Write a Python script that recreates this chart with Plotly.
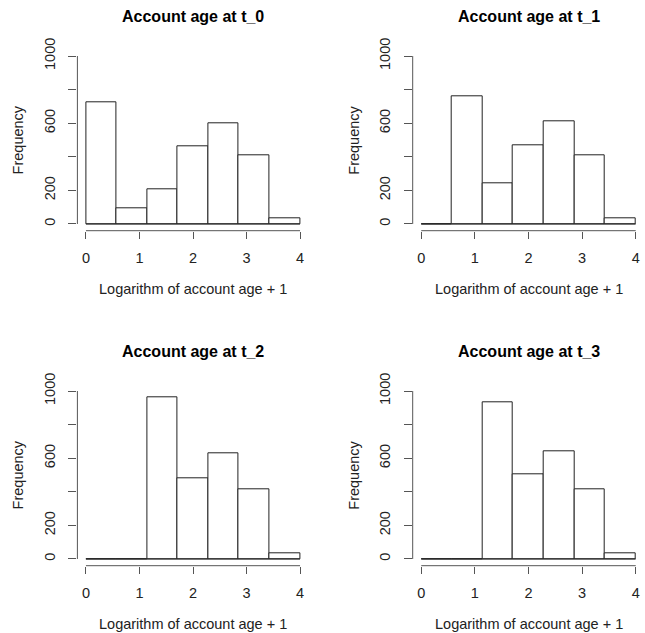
import plotly.graph_objects as go

# Data
bin_edges = [0, 4/7, 8/7, 12/7, 16/7, 20/7, 24/7, 4]
titles = ["Account age at t_0", "Account age at t_1", "Account age at t_2", "Account age at t_3"]
counts_t0 = [722, 93, 206, 464, 597, 409, 34]
counts_t1 = [0, 758, 244, 466, 613, 411, 32]
counts_t2 = [0, 0, 964, 480, 629, 413, 36]
counts_t3 = [0, 0, 931, 502, 641, 417, 36]
x_ticks = [0, 1, 2, 3, 4]
y_ticks = [0, 200, 400, 600, 800, 1000]
y_ticktext = ["0", "200", "", "600", "", "1000"]
xlab = "Logarithm of account age + 1"
ylab = "Frequency"

all_counts = [counts_t0, counts_t1, counts_t2, counts_t3]

W, H = 645, 633
# panel plot regions in pixels (left, right, top, bottom)
panels = [
    (77.4, 308.6, 49.3, 230.7),
    (412.7, 644.3, 49.3, 230.7),
    (77.4, 308.6, 384.3, 565.7),
    (412.7, 644.3, 384.3, 565.7),
]

FONT = "Liberation Sans, Arial, sans-serif"
AX_COL = "#555555"
BAR_COL = "#222222"
TXT_COL = "#222222"
LAB_SIZE = 14.5
TITLE_SIZE = 16

fig = go.Figure()
layout = dict(
    template="none",
    width=W, height=H, margin=dict(l=0, r=0, t=0, b=0, pad=0), autosize=False,
    paper_bgcolor="white", plot_bgcolor="white", showlegend=False,
    font=dict(family=FONT, color="black", size=12),
)
annotations = []
shapes = []

centers = [(bin_edges[i] + bin_edges[i + 1]) / 2 for i in range(len(bin_edges) - 1)]
widths = [bin_edges[i + 1] - bin_edges[i] for i in range(len(bin_edges) - 1)]

for k, (cnts, (l, r, t, b)) in enumerate(zip(all_counts, panels)):
    n = k + 1
    xa = "x" if n == 1 else f"x{n}"
    ya = "y" if n == 1 else f"y{n}"
    fig.add_trace(go.Bar(
        x=centers, y=cnts, width=widths, base=0,
        marker=dict(color="white", line=dict(color=BAR_COL, width=1)),
        xaxis=xa, yaxis=ya, hoverinfo="skip",
    ))
    # baseline at zero (zero-count bins drawn as flat lines)
    fig.add_trace(go.Scatter(
        x=[bin_edges[0], bin_edges[-1]], y=[0, 0], mode="lines",
        line=dict(color=BAR_COL, width=1), xaxis=xa, yaxis=ya, hoverinfo="skip",
    ))
    xd = [l / W, r / W]
    yd = [1 - b / H, 1 - t / H]
    layout[f"xaxis{'' if n == 1 else n}"] = dict(
        domain=xd, anchor=ya, range=[-0.16, 4.16], showgrid=False, zeroline=False,
        showline=False, tickvals=x_ticks, ticks="outside", ticklen=7, tickwidth=1,
        tickcolor=AX_COL, tickfont=dict(size=LAB_SIZE, family=FONT, color=TXT_COL),
        ticklabelstandoff=7, fixedrange=True, automargin=False,
    )
    layout[f"yaxis{'' if n == 1 else n}"] = dict(
        domain=yd, anchor=xa, range=[-40, 1040], showgrid=False, zeroline=False,
        showline=False, tickvals=y_ticks, ticktext=y_ticktext, ticks="outside",
        ticklen=8, tickwidth=1, tickcolor=AX_COL, tickangle=-90,
        tickfont=dict(size=LAB_SIZE, family=FONT, color=TXT_COL), ticklabelstandoff=8,
        fixedrange=True, automargin=False,
    )
    # axis lines spanning first to last tick
    shapes.append(dict(type="line", xref=xa, yref=f"{ya} domain", x0=x_ticks[0], x1=x_ticks[-1],
                       y0=0, y1=0, line=dict(color=AX_COL, width=1)))
    shapes.append(dict(type="line", xref=f"{xa} domain", yref=ya, x0=0, x1=0,
                       y0=y_ticks[0], y1=y_ticks[-1], line=dict(color=AX_COL, width=1)))
    cx = (l + r) / 2
    cy = (t + b) / 2
    annotations.append(dict(text=f"<b>{titles[k]}</b>", x=cx / W, y=1 - (t - 33) / H,
                            xref="paper", yref="paper", showarrow=False,
                            font=dict(size=TITLE_SIZE, family=FONT, color="black"),
                            xanchor="center", yanchor="middle"))
    annotations.append(dict(text=xlab, x=cx / W, y=1 - (b + 58) / H, xref="paper", yref="paper",
                            showarrow=False, font=dict(size=LAB_SIZE, family=FONT, color=TXT_COL),
                            xanchor="center", yanchor="middle"))
    annotations.append(dict(text=ylab, x=(l - 59) / W, y=1 - cy / H, xref="paper", yref="paper",
                            showarrow=False, textangle=-90,
                            font=dict(size=LAB_SIZE, family=FONT, color=TXT_COL),
                            xanchor="center", yanchor="middle"))

layout["annotations"] = annotations
layout["shapes"] = shapes
layout["bargap"] = 0
fig.update_layout(**layout)
fig.write_html("out.html")
